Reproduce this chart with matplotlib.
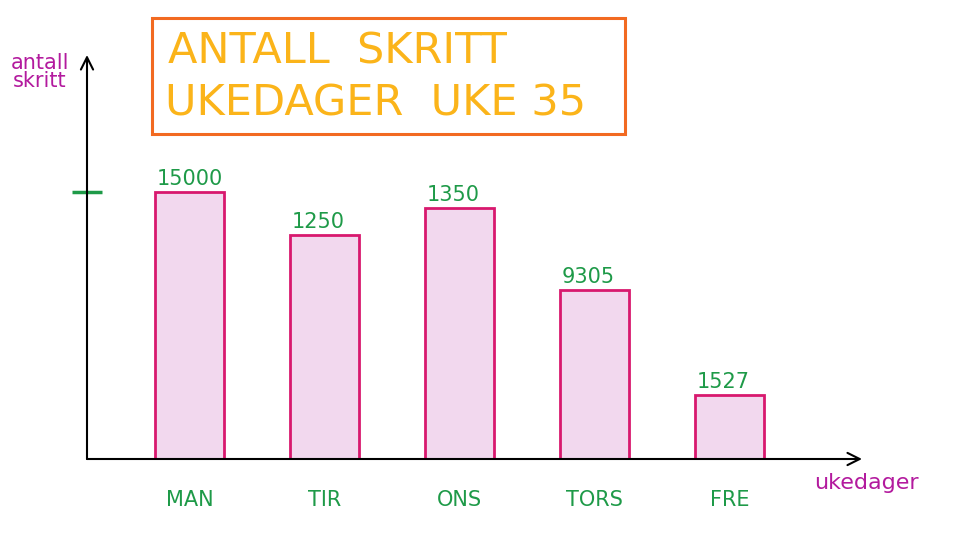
import matplotlib
matplotlib.use("Agg")
import matplotlib.pyplot as plt
from matplotlib.patches import Rectangle

# Data
categories = ["MAN", "TIR", "ONS", "TORS", "FRE"]
values = [15000, 12580, 14100, 9490, 3600]          # bar heights (as drawn)
value_labels = ["15000", "1250", "1350", "9305", "1527"]  # handwritten labels
title_lines = ["ANTALL  SKRITT", "UKEDAGER  UKE 35"]
y_label = "antall\nskritt"
x_label = "ukedager"
y_tick = [15000]

W, H = 973, 550
fig = plt.figure(figsize=(W / 100, H / 100), dpi=100)
fig.patch.set_facecolor("white")

# axes geometry (pixels)
ax_left, ax_right, ax_bottom, ax_top = 87, 862, 459, 55
ax = fig.add_axes([ax_left / W, (H - ax_bottom) / H,
                   (ax_right - ax_left) / W, (ax_bottom - ax_top) / H])
ax.set_facecolor("none")

px_per_unit = 135.0
c0 = 189.5
ax.set_xlim((ax_left - c0) / px_per_unit, (ax_right - c0) / px_per_unit)
ymax = (ax_bottom - ax_top) / 267.0 * 15000
ax.set_ylim(0, ymax)

pink_edge = "#D8186E"
pink_fill = "#F2D8EE"
green = "#1E9A48"
magenta = "#B31A9E"

xs = list(range(len(categories)))
ax.bar(xs, values, width=0.51, color=pink_fill, edgecolor=pink_edge,
       linewidth=2.0, zorder=2)

for x, v, lab in zip(xs, values, value_labels):
    ax.text(x - 0.24, v + ymax * 0.008, lab, color=green, fontsize=15,
            ha="left", va="bottom")

# axes lines with open arrow heads
for s in ["top", "right", "left", "bottom"]:
    ax.spines[s].set_visible(False)
ax.annotate("", xy=(0, 1.0), xytext=(0, 0), xycoords="axes fraction",
            arrowprops=dict(arrowstyle="->", lw=1.5, color="black",
                            mutation_scale=22, shrinkA=0, shrinkB=0))
ax.annotate("", xy=(1.0, 0), xytext=(0, 0), xycoords="axes fraction",
            arrowprops=dict(arrowstyle="->", lw=1.5, color="black",
                            mutation_scale=22, shrinkA=0, shrinkB=0))

ax.set_yticks(y_tick)
ax.set_yticklabels([""])
ax.tick_params(axis="y", direction="inout", length=22, width=2.5, color=green)
ax.set_xticks(xs)
ax.set_xticklabels(categories, color=green, fontsize=15)
ax.tick_params(axis="x", length=0, pad=22)

# axis labels
fig.text(40 / W, 1 - 72 / H, y_label, color=magenta, fontsize=15,
         ha="center", va="center", linespacing=0.9)
fig.text(866 / W, 1 - 483 / H, x_label, color=magenta, fontsize=16,
         ha="center", va="center")

# title box
bx0, bx1, by0, by1 = 152, 625, 18, 134
fig.patches.append(Rectangle((bx0 / W, 1 - by1 / H), (bx1 - bx0) / W, (by1 - by0) / H,
                             transform=fig.transFigure, fill=False,
                             edgecolor="#F26A21", linewidth=2.2))
fig.text(168 / W, 1 - 52 / H, title_lines[0], color="#FBB41A", fontsize=31,
         ha="left", va="center")
fig.text(165 / W, 1 - 104 / H, title_lines[1], color="#FBB41A", fontsize=31,
         ha="left", va="center")

fig.savefig("out.png", dpi=100)
